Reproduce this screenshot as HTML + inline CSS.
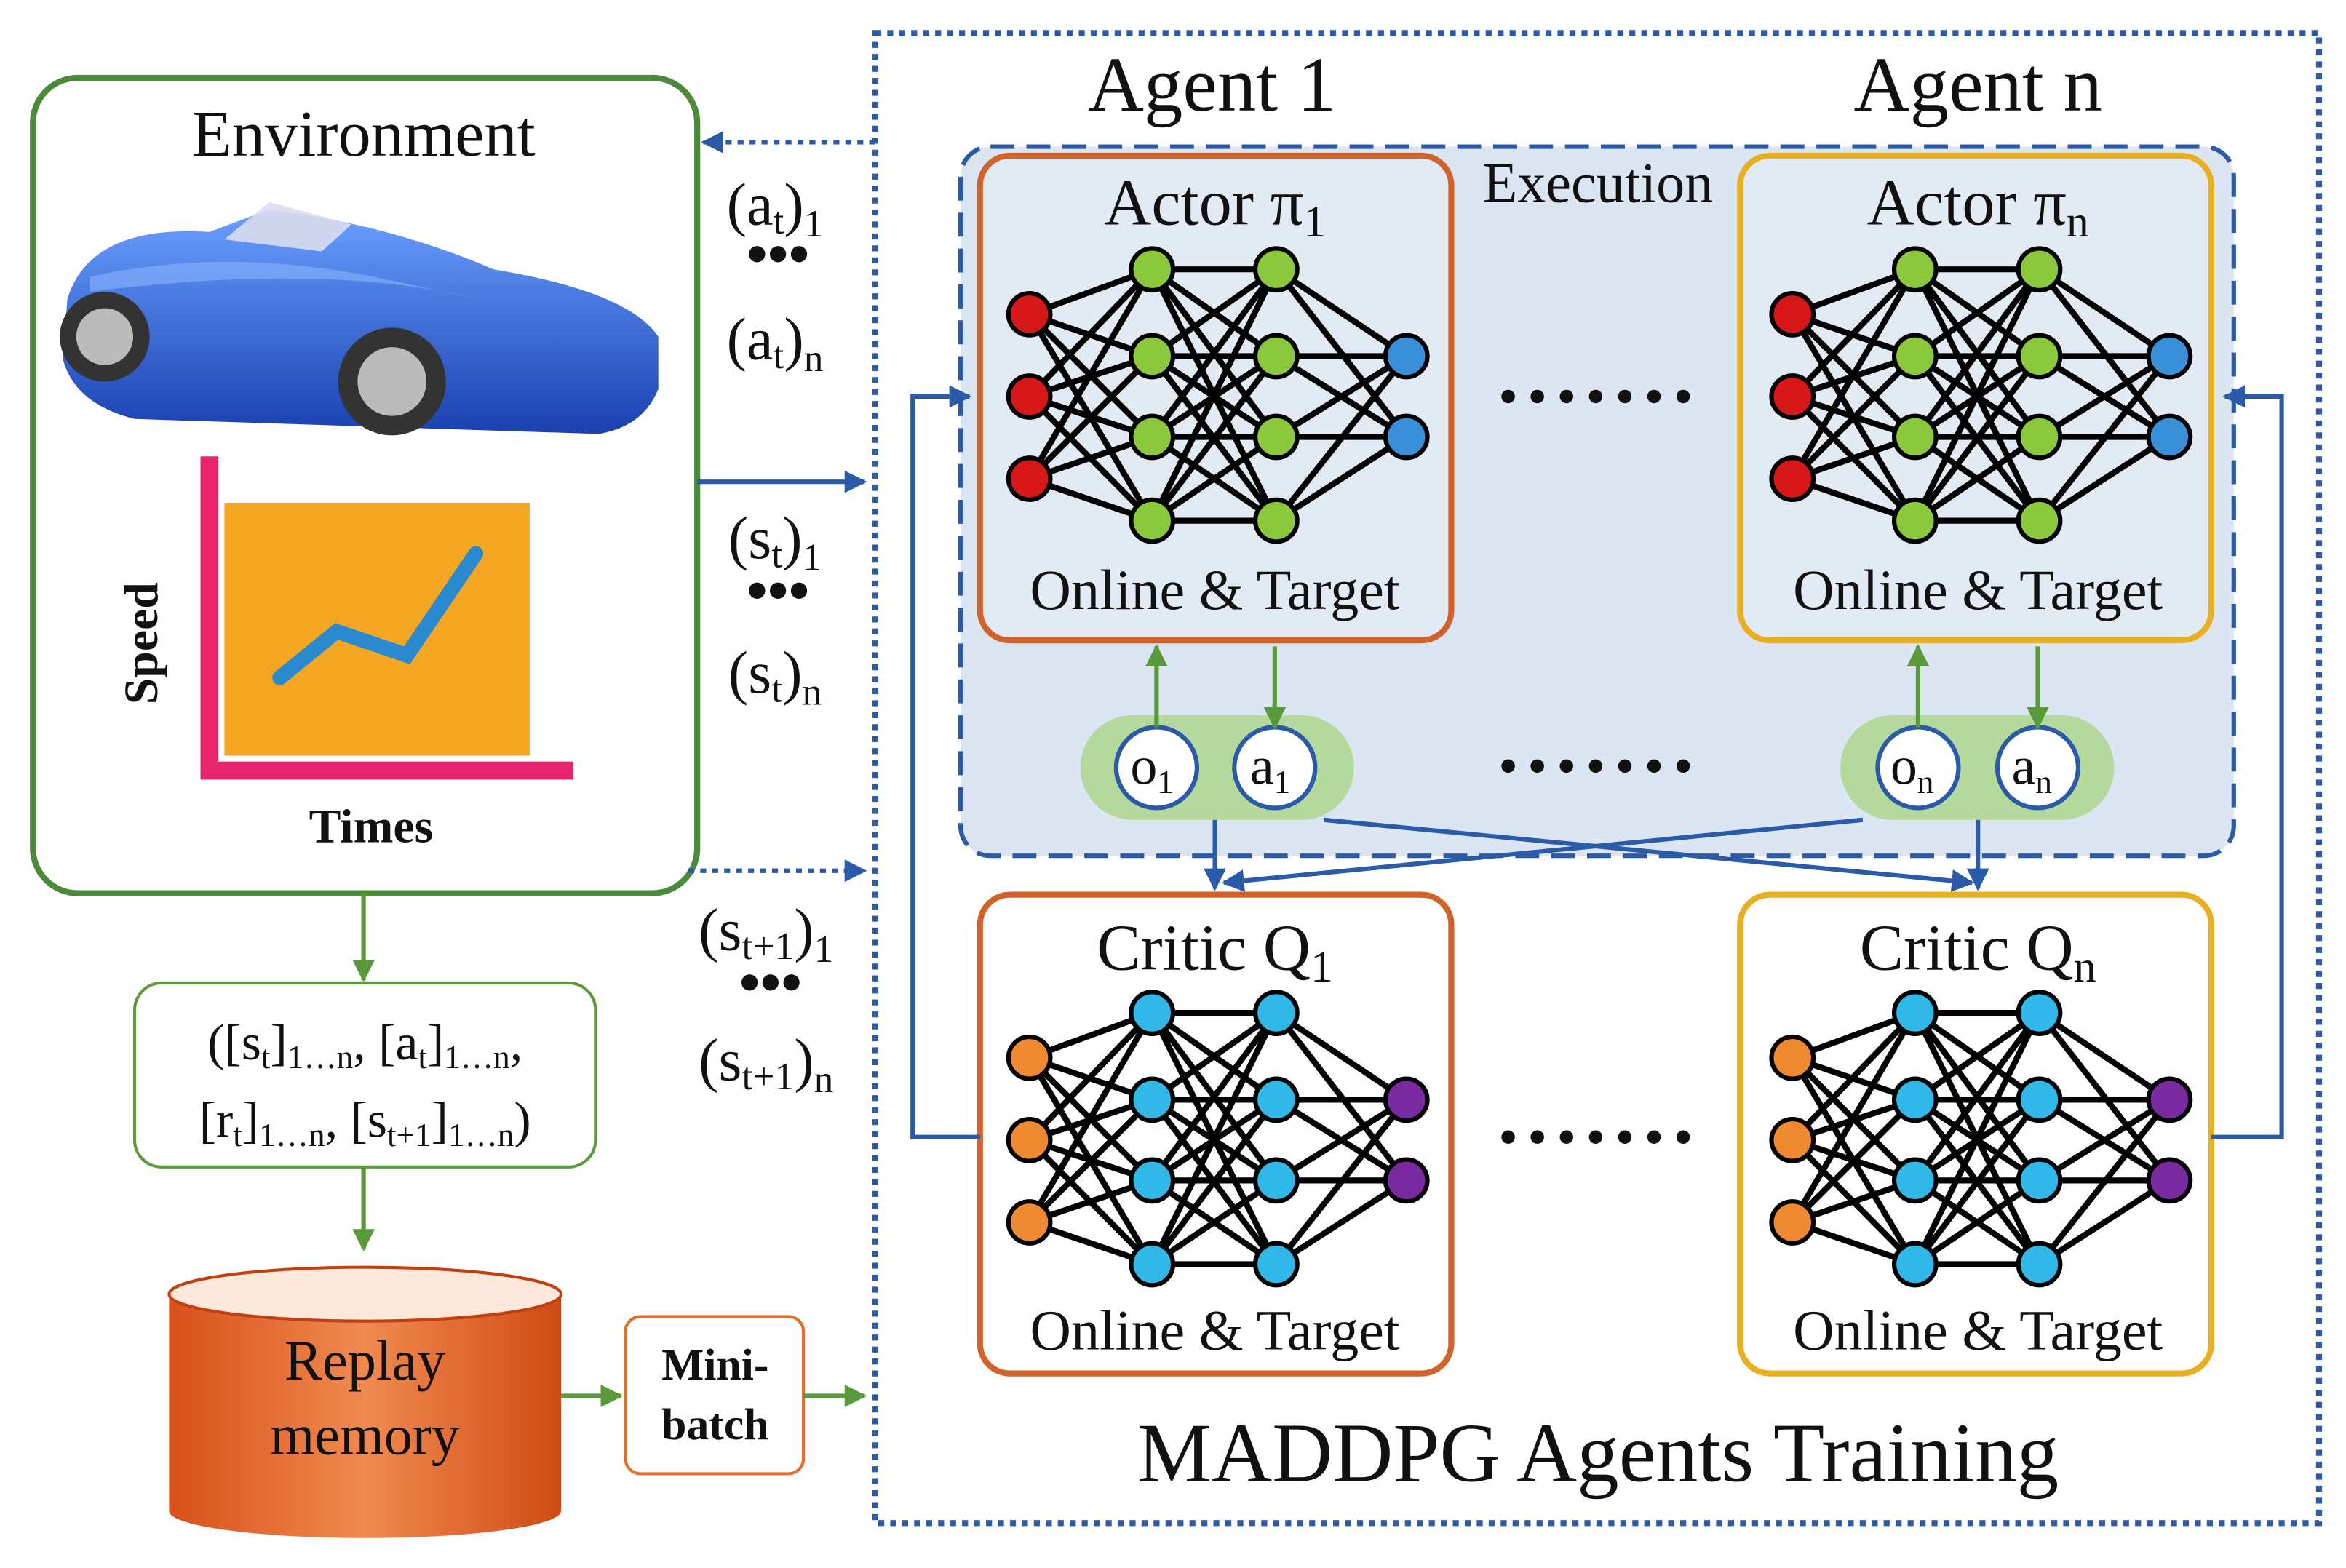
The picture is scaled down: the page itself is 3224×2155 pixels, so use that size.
<!DOCTYPE html>
<html><head><meta charset="utf-8"><style>
html,body{margin:0;padding:0;background:#fff}
svg{display:block}
text{font-family:"Liberation Serif",serif;fill:#111}
</style></head><body>
<svg id="s" width="3224" height="2155" viewBox="0 0 1568 1048" xmlns="http://www.w3.org/2000/svg">
<defs>
<marker id="ab" viewBox="0 0 10 10" refX="9" refY="5" markerWidth="5" markerHeight="5" orient="auto"><path d="M0,0L10,5L0,10z" fill="#2a5aa8"/></marker>
<marker id="ag" viewBox="0 0 10 10" refX="9" refY="5" markerWidth="5" markerHeight="5" orient="auto"><path d="M0,0L10,5L0,10z" fill="#5a9a3a"/></marker>
<linearGradient id="cyl" x1="0" x2="1"><stop offset="0" stop-color="#d8501a"/><stop offset="0.5" stop-color="#f08a50"/><stop offset="1" stop-color="#d04a14"/></linearGradient>
<linearGradient id="car" x1="0" y1="0" x2="0" y2="1"><stop offset="0" stop-color="#6aa0ff"/><stop offset="1" stop-color="#1a40b0"/></linearGradient>
</defs>
<rect x="22" y="52" width="444" height="545" rx="30" fill="#fff" stroke="#4a8a3a" stroke-width="4"/>
<text x="243" y="104" font-size="44" text-anchor="middle">Environment</text>
<path d="M45,200 Q60,150 140,155 L180,140 Q260,150 330,180 Q420,195 440,225 L440,260 Q430,285 400,290 L90,280 Q50,270 42,240 Z" fill="url(#car)"/>
<path d="M150,160 L180,135 L235,150 L215,168 Z" fill="#dde" opacity="0.9"/>
<path d="M60,185 Q150,165 250,185 L320,200 Q220,175 60,195 Z" fill="#8ab4ff" opacity="0.6"/>
<circle cx="70" cy="225" r="30" fill="#333"/><circle cx="70" cy="225" r="19" fill="#bbb"/>
<circle cx="262" cy="255" r="36" fill="#333"/><circle cx="262" cy="255" r="23" fill="#bbb"/>
<rect x="150" y="336" width="204" height="169" fill="#f5a623"/>
<path d="M140,305 L140,515 L383,515" fill="none" stroke="#e8246c" stroke-width="12"/>
<polyline points="187,453 225,422 272,438 318,370" fill="none" stroke="#2a8ad0" stroke-width="10" stroke-linecap="round"/>
<text x="0" y="0" font-size="32" font-weight="bold" text-anchor="middle" transform="translate(105,430) rotate(-90)">Speed</text>
<text x="248" y="563" font-size="32" font-weight="bold" text-anchor="middle">Times</text>
<line x1="243" y1="597" x2="243" y2="655" stroke="#5a9a3a" stroke-width="3" marker-end="url(#ag)"/>
<rect x="90" y="657" width="308" height="123" rx="18" fill="#fff" stroke="#5a9a3a" stroke-width="2"/>
<text x="244" y="708" font-size="34" text-anchor="middle">([s<tspan font-size="22" dy="6">t</tspan><tspan dy="-6">]</tspan><tspan font-size="22" dy="6">1…n</tspan><tspan dy="-6">, [a</tspan><tspan font-size="22" dy="6">t</tspan><tspan dy="-6">]</tspan><tspan font-size="22" dy="6">1…n</tspan><tspan dy="-6">,</tspan></text>
<text x="244" y="760" font-size="34" text-anchor="middle">[r<tspan font-size="22" dy="6">t</tspan><tspan dy="-6">]</tspan><tspan font-size="22" dy="6">1…n</tspan><tspan dy="-6">, [s</tspan><tspan font-size="22" dy="6">t+1</tspan><tspan dy="-6">]</tspan><tspan font-size="22" dy="6">1…n</tspan><tspan dy="-6">)</tspan></text>
<line x1="243" y1="780" x2="243" y2="835" stroke="#5a9a3a" stroke-width="3" marker-end="url(#ag)"/>
<path d="M113,865 L113,1010 A131,18 0 0 0 375,1010 L375,865 Z" fill="url(#cyl)"/>
<ellipse cx="244" cy="865" rx="131" ry="18" fill="#fde8dc" stroke="#c04010" stroke-width="2"/>
<text x="244" y="922" font-size="38" text-anchor="middle">Replay</text>
<text x="244" y="972" font-size="38" text-anchor="middle">memory</text>
<line x1="375" y1="933" x2="415" y2="933" stroke="#5a9a3a" stroke-width="3" marker-end="url(#ag)"/>
<rect x="418" y="880" width="119" height="105" rx="10" fill="#fff" stroke="#e07030" stroke-width="2"/>
<text x="478" y="922" font-size="30" font-weight="bold" text-anchor="middle">Mini-</text>
<text x="478" y="962" font-size="30" font-weight="bold" text-anchor="middle">batch</text>
<line x1="537" y1="933" x2="578" y2="933" stroke="#5a9a3a" stroke-width="3" marker-end="url(#ag)"/>
<line x1="585" y1="95" x2="470" y2="95" stroke="#2a5aa8" stroke-width="3" stroke-dasharray="4,4" marker-end="url(#ab)"/>
<line x1="466" y1="322" x2="578" y2="322" stroke="#2a5aa8" stroke-width="3" marker-end="url(#ab)"/>
<line x1="460" y1="582" x2="578" y2="582" stroke="#2a5aa8" stroke-width="3" stroke-dasharray="4,4" marker-end="url(#ab)"/>
<g font-size="40" text-anchor="middle">
<text x="518" y="150">(a<tspan font-size="26" dy="6">t</tspan><tspan dy="-6">)</tspan><tspan font-size="26" dy="8">1</tspan></text>
<text x="520" y="183" font-weight="bold">•••</text>
<text x="518" y="240">(a<tspan font-size="26" dy="6">t</tspan><tspan dy="-6">)</tspan><tspan font-size="26" dy="8">n</tspan></text>
<text x="518" y="373">(s<tspan font-size="26" dy="6">t</tspan><tspan dy="-6">)</tspan><tspan font-size="26" dy="8">1</tspan></text>
<text x="520" y="408" font-weight="bold">•••</text>
<text x="518" y="463">(s<tspan font-size="26" dy="6">t</tspan><tspan dy="-6">)</tspan><tspan font-size="26" dy="8">n</tspan></text>
<text x="512" y="635">(s<tspan font-size="26" dy="6">t+1</tspan><tspan dy="-6">)</tspan><tspan font-size="26" dy="8">1</tspan></text>
<text x="515" y="670" font-weight="bold">•••</text>
<text x="512" y="722">(s<tspan font-size="26" dy="6">t+1</tspan><tspan dy="-6">)</tspan><tspan font-size="26" dy="8">n</tspan></text>
</g>
<rect x="585" y="22" width="965" height="996" fill="none" stroke="#2a5aa8" stroke-width="4" stroke-dasharray="4,4"/>
<text x="810" y="74" font-size="52" text-anchor="middle">Agent 1</text>
<text x="1322" y="74" font-size="52" text-anchor="middle">Agent n</text>
<rect x="642" y="98" width="851" height="474" rx="20" fill="#dce6f2" stroke="#2a5aa8" stroke-width="3" stroke-dasharray="16,8"/>
<text x="1068" y="135" font-size="38" text-anchor="middle">Execution</text>
<g id="boxes"></g>
<g font-size="44" text-anchor="middle">
<text x="812" y="150">Actor π<tspan font-size="30" dy="8">1</tspan></text>
<text x="1322" y="150">Actor π<tspan font-size="30" dy="8">n</tspan></text>
<text x="812" y="648">Critic Q<tspan font-size="30" dy="8">1</tspan></text>
<text x="1322" y="648">Critic Q<tspan font-size="30" dy="8">n</tspan></text>
</g>
<g font-size="38" text-anchor="middle">
<text x="812" y="407">Online &amp; Target</text><text x="1322" y="407">Online &amp; Target</text>
<text x="812" y="902">Online &amp; Target</text><text x="1322" y="902">Online &amp; Target</text>
</g>
<g id="dots" fill="#111"></g>
<rect x="722" y="478" width="183" height="70" rx="35" fill="#b5d99c"/>
<rect x="1230" y="478" width="183" height="70" rx="35" fill="#b5d99c"/>
<g fill="#fff" stroke="#2a5aa8" stroke-width="3">
<circle cx="773" cy="513" r="27"/><circle cx="852" cy="513" r="27"/>
<circle cx="1282" cy="513" r="27"/><circle cx="1362" cy="513" r="27"/>
</g>
<g font-size="36" text-anchor="middle">
<text x="770" y="524">o<tspan font-size="22" dy="6">1</tspan></text>
<text x="849" y="524">a<tspan font-size="22" dy="6">1</tspan></text>
<text x="1278" y="524">o<tspan font-size="22" dy="6">n</tspan></text>
<text x="1358" y="524">a<tspan font-size="22" dy="6">n</tspan></text>
</g>
<g stroke="#5a9a3a" stroke-width="3">
<line x1="773" y1="486" x2="773" y2="432" marker-end="url(#ag)"/>
<line x1="852" y1="432" x2="852" y2="486" marker-end="url(#ag)"/>
<line x1="1282" y1="486" x2="1282" y2="432" marker-end="url(#ag)"/>
<line x1="1362" y1="432" x2="1362" y2="486" marker-end="url(#ag)"/>
</g>
<g stroke="#2a5aa8" stroke-width="3" fill="none">
<line x1="885" y1="548" x2="1318" y2="590" marker-end="url(#ab)"/>
<line x1="1245" y1="548" x2="818" y2="590" marker-end="url(#ab)"/>
<line x1="812" y1="548" x2="812" y2="594" marker-end="url(#ab)"/>
<line x1="1322" y1="548" x2="1322" y2="594" marker-end="url(#ab)"/>
<polyline points="655,760 610,760 610,265 648,265" marker-end="url(#ab)"/>
<polyline points="1478,760 1525,760 1525,265 1487,265" marker-end="url(#ab)"/>
</g>
<g id="nets"></g>
<text x="1068" y="990" font-size="56" text-anchor="middle">MADDPG Agents Training</text>
<script>
var NS="http://www.w3.org/2000/svg";
function el(p,t,a){var e=document.createElementNS(NS,t);for(var k in a)e.setAttribute(k,a[k]);p.appendChild(e);return e;}
var B=document.getElementById("boxes");
[[655,104,"#d0622a"],[1163,104,"#e8b020"],[655,598,"#d0622a"],[1163,598,"#e8b020"]].forEach(function(b){
el(B,"rect",{x:b[0],y:b[1],width:315,height:b[1]<500?324:320,rx:20,fill:b[1]<500?"#e2eaf4":"#fff",stroke:b[2],"stroke-width":4});});
var D=document.getElementById("dots");
[265,512,760].forEach(function(y){for(var i=0;i<7;i++)el(D,"circle",{cx:1008+i*19.5,cy:y,r:4.5});});
var N=document.getElementById("nets");
function net(ox,oy,cols){
var L=[[oy+30,oy+85,oy+140],[oy,oy+58,oy+112,oy+168],[oy,oy+58,oy+112,oy+168],[oy+58,oy+112]];
var X=[ox,ox+82,ox+165,ox+252];
for(var i=0;i<3;i++)L[i].forEach(function(a){L[i+1].forEach(function(b){el(N,"line",{x1:X[i],y1:a,x2:X[i+1],y2:b,stroke:"#000","stroke-width":4});});});
for(var i=0;i<4;i++)L[i].forEach(function(y){el(N,"circle",{cx:X[i],cy:y,r:14,fill:cols[i],stroke:"#000","stroke-width":3});});
}
var A=["#d81818","#8cc83c","#8cc83c","#3a90d8"],C=["#f08a30","#30b8e8","#30b8e8","#7a2aa0"];
net(688,180,A);net(1198,180,A);net(688,677,C);net(1198,677,C);
</script>
</svg>
</body></html>
